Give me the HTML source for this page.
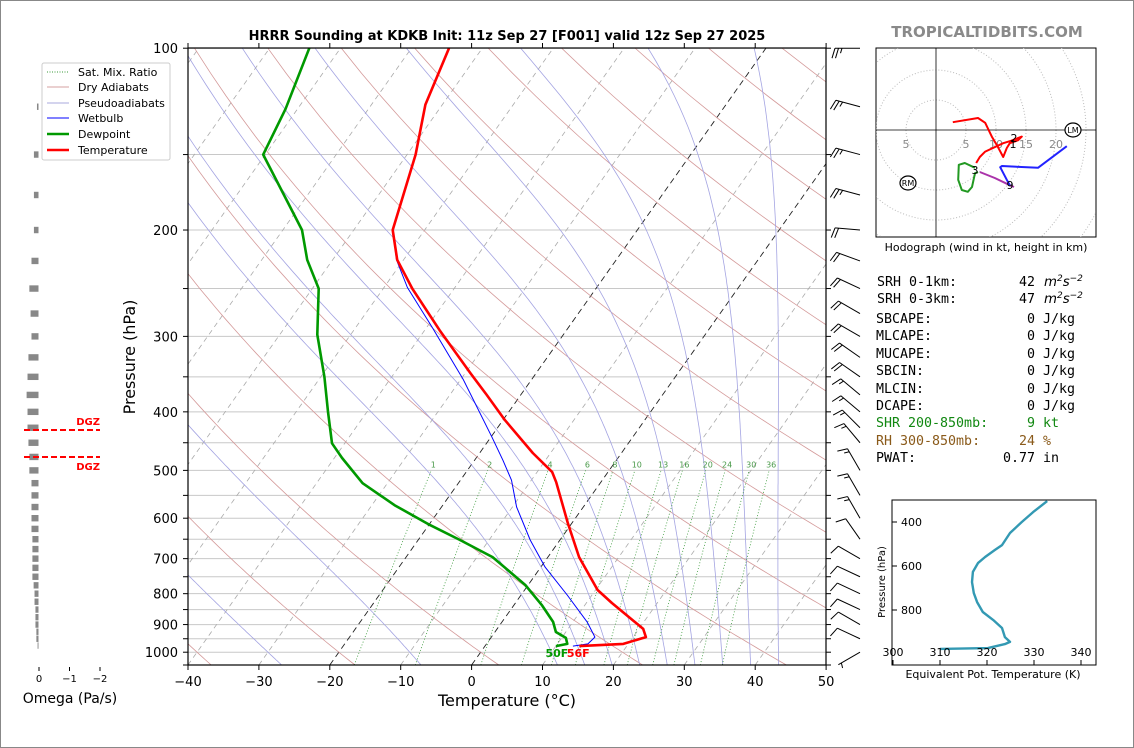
<!DOCTYPE html>
<html><head><meta charset="utf-8">
<style>
html,body{margin:0;padding:0;background:#fff;}
svg{display:block;font-family:"DejaVu Sans","Liberation Sans",sans-serif;}
</style></head>
<body>
<svg id="chart" width="1134" height="748" viewBox="0 0 1134 748" xmlns="http://www.w3.org/2000/svg">
<rect x="0.5" y="0.5" width="1133" height="747" fill="#fff" stroke="#888"/>
<defs>
<clipPath id="mainclip"><rect x="188" y="48" width="638" height="617"/></clipPath>
<clipPath id="hodoclip"><rect x="876" y="48" width="220" height="189"/></clipPath>
<clipPath id="thclip"><rect x="892" y="500" width="204" height="165"/></clipPath>
</defs>
<g id="grid" clip-path="url(#mainclip)"></g>
<g id="series" clip-path="url(#mainclip)"></g>
<g id="axes"></g>
<g id="omega"></g>
<g id="barbs"></g>
<g id="hodo"></g>
<g id="theta"></g>

<text x="507" y="40" text-anchor="middle" font-size="13" font-weight="bold">HRRR Sounding at KDKB Init: 11z Sep 27 [F001] valid 12z Sep 27 2025</text>
<text x="987" y="37" text-anchor="middle" font-size="15" font-weight="bold" fill="#8a8a8a">TROPICALTIDBITS.COM</text>
<text x="507" y="706" text-anchor="middle" font-size="16">Temperature (°C)</text>
<text transform="translate(135,357) rotate(-90)" text-anchor="middle" font-size="16">Pressure (hPa)</text>
<text x="70" y="703" text-anchor="middle" font-size="14">Omega (Pa/s)</text>

<g font-size="11">
<rect x="42" y="63" width="128" height="97" fill="#fff" stroke="#ccc" rx="2"/>
<g><line x1="47" y1="72" x2="69" y2="72" stroke="#3a9a3a" stroke-dasharray="1,1.5"/><text x="78" y="76">Sat. Mix. Ratio</text></g>
<g><line x1="47" y1="87" x2="69" y2="87" stroke="#d4a0a0"/><text x="78" y="91">Dry Adiabats</text></g>
<g><line x1="47" y1="103" x2="69" y2="103" stroke="#aaaadd"/><text x="78" y="107">Pseudoadiabats</text></g>
<g><line x1="47" y1="118" x2="69" y2="118" stroke="#0000ff"/><text x="78" y="122">Wetbulb</text></g>
<g><line x1="47" y1="134" x2="69" y2="134" stroke="#009900" stroke-width="2.5"/><text x="78" y="138">Dewpoint</text></g>
<g><line x1="47" y1="150" x2="69" y2="150" stroke="#ff0000" stroke-width="2.5"/><text x="78" y="154">Temperature</text></g>
</g>

<g font-family="'DejaVu Sans Mono','Liberation Mono',monospace" font-size="13.3">
<text x="877" y="286">SRH 0-1km:</text><text x="1019" y="286">42</text><text x="1044" y="286" font-family="'DejaVu Sans',sans-serif" font-style="italic">m<tspan dy="-5" font-size="9">2</tspan><tspan dy="5">s</tspan><tspan dy="-5" font-size="9">−2</tspan></text>
<text x="877" y="303">SRH 0-3km:</text><text x="1019" y="303">47</text><text x="1044" y="303" font-family="'DejaVu Sans',sans-serif" font-style="italic">m<tspan dy="-5" font-size="9">2</tspan><tspan dy="5">s</tspan><tspan dy="-5" font-size="9">−2</tspan></text>
<text x="876" y="323">SBCAPE:</text><text x="1027" y="323">0 J/kg</text>
<text x="876" y="340">MLCAPE:</text><text x="1027" y="340">0 J/kg</text>
<text x="876" y="358">MUCAPE:</text><text x="1027" y="358">0 J/kg</text>
<text x="876" y="375">SBCIN:</text><text x="1027" y="375">0 J/kg</text>
<text x="876" y="393">MLCIN:</text><text x="1027" y="393">0 J/kg</text>
<text x="876" y="410">DCAPE:</text><text x="1027" y="410">0 J/kg</text>
<text x="876" y="427" fill="#118811">SHR 200-850mb:</text><text x="1027" y="427" fill="#118811">9 kt</text>
<text x="876" y="445" fill="#8a5a1a">RH 300-850mb:</text><text x="1019" y="445" fill="#8a5a1a">24 %</text>
<text x="876" y="462">PWAT:</text><text x="1003" y="462">0.77 in</text>
</g>
</svg>
<script>
// ---------- DATA ----------
const tempP = [100,124,150,200,224,250,293,345,375,413,468,503,523,611,696,789,829,915,944,969,977];
const tempT = [-64.7,-62.4,-58.8,-54.5,-50.9,-45.9,-37.9,-29.3,-24.8,-19.7,-12.5,-7.9,-6.3,-0.6,4.4,10.3,13.6,20.6,21.8,19.3,13.3];
const dewP = [100,126,150,200,224,250,298,350,400,451,477,525,571,616,652,696,774,835,891,926,947,969,977];
const dewT = [-84.4,-81.7,-80.3,-67.3,-63.6,-59.1,-54.7,-49.5,-45.5,-41.8,-38.9,-33.5,-26.8,-19.8,-14.1,-7.8,-0.4,3.9,7.2,8.6,10.6,11.4,10.0];
const wbP = [200,224,249,290,354,440,481,519,575,652,723,804,891,944,969,977];
const wbT = [-54.5,-51.0,-46.7,-39.2,-29.6,-19.9,-16.0,-12.8,-9.4,-4.2,0.6,6.5,12.0,14.6,14.3,12.4];
const omegaP = [125,150,175,200,225,250,275,300,325,350,375,400,425,450,475,500,525,550,575,600,625,650,675,700,725,750,775,800,825,850,875,900,925,950,975];
const omegaV = [0.05,0.15,0.15,0.15,0.23,0.3,0.26,0.23,0.33,0.36,0.39,0.36,0.36,0.33,0.3,0.3,0.23,0.23,0.23,0.23,0.23,0.2,0.2,0.2,0.2,0.2,0.16,0.13,0.13,0.1,0.1,0.1,0.07,0.07,0.03];
const barbP = [100,125,150,175,200,225,250,275,300,325,350,375,400,425,450,500,550,600,650,700,750,800,850,900,950,1000];
const barbDir = [270,285,285,285,275,290,295,300,300,305,305,310,310,315,320,330,330,330,325,300,295,295,295,300,295,240];
const barbSpd = [25,25,25,25,20,20,20,20,20,20,20,15,15,15,15,15,15,15,10,10,10,10,10,10,10,5];
const hodoRedU = [2.8,7,8.2,9.3,10.3,11.2,11.8,12.3,13.7,14.3,12.5,11.2,8.2,7.3,6.7];
const hodoRedV = [1.3,2,1.2,-1.1,-2.8,-4.5,-3,-2.2,-1.7,-1.1,-1.8,-2.2,-3.6,-4.5,-5.5];
const hodoGreenU = [6.5,4.8,3.8,3.7,4.3,5.3,6,6.5,7.0];
const hodoGreenV = [-6.3,-5.5,-5.8,-8.3,-10,-10.3,-9.5,-7.2,-7.0];
const hodoMagU = [7.3,9.8,12.3,13];
const hodoMagV = [-7,-8,-9.2,-9.5];
const hodoBlueU = [12.3,11.8,10.7,11,17,21.8];
const hodoBlueV = [-9.2,-8.3,-6.2,-6,-6.3,-2.7];
const thetaE = [332.8,329.8,327.4,324.9,323.2,321.7,319.6,318.1,317.0,316.8,317.2,317.9,319.1,321.3,323.2,323.8,324.9,323.8,320.2,310.0];
const thetaP = [305,355,400,450,505,527,559,586,627,673,723,764,809,845,882,923,945,955,973,977];
const mixRatios = [1,2,4,6,8,10,13,16,20,24,30,36];
const dryT0 = [-60,-40,-20,0,20,40,60,80,100,120,140,160,180,200,220];
const moistT0 = [-50,-30,-10,10,14,18,22,26,30,34,38,42];
const xTicks = [-40,-30,-20,-10,0,10,20,30,40,50];
const pLabels = [100,200,300,400,500,600,700,800,900,1000];

// ---------- SCALES ----------
const NS='http://www.w3.org/2000/svg';
function yP(p){return 665-604*Math.log10(1050/p);}
function xT(T,p){return 188+(T+40)*7.09+(665-yP(p))*0.707;}
function mk(tag,attrs,parent){const e=document.createElementNS(NS,tag);for(const k in attrs)e.setAttribute(k,attrs[k]);parent.appendChild(e);return e;}
const G=id=>document.getElementById(id);
const grid=G('grid'),series=G('series'),axes=G('axes');
function pathFrom(pts){return pts.map((q,i)=>(i?'L':'M')+q[0].toFixed(1)+','+q[1].toFixed(1)).join('');}

for(let p=100;p<=1050;p+=50){const l=mk('line',{x1:188,x2:826,y1:yP(p),y2:yP(p),stroke:'#c8c8c8','stroke-width':1},grid);

}
for(let T=-140;T<=50;T+=10){const c=(T===0||T===-20);
const l=mk('line',{x1:xT(T,1050),y1:yP(1050),x2:xT(T,100),y2:yP(100),stroke:c?'#222':'#aaa','stroke-width':c?0.9:0.8,'stroke-dasharray':c?'6,4':'5,4'},grid);

}
dryT0.forEach(t0=>{const th=t0+273.15;const pts=[];for(let p=1050;p>=100;p-=10){pts.push([xT(th*Math.pow(p/1000,0.2857)-273.15,p),yP(p)]);}
const l=mk('path',{d:pathFrom(pts),fill:'none',stroke:'#d49a9a','stroke-width':0.8},grid);

});
function es(Tc){return 6.112*Math.exp(17.67*Tc/(Tc+243.5));}
function moistRate(T,p){const Tc=T-273.15;const rs=0.622*es(Tc)/(p-es(Tc));const Rd=287,Lv=2.5e6,Cp=1005;
return (Rd*T+Lv*rs)/(p*(Cp+Lv*Lv*rs*0.622/(Rd*T*T)));}
moistT0.forEach(T0=>{let pts=[];let T=T0+273.15;
let Tl=T;for(let p=1000;p<=1050;p+=5){pts.unshift([xT(Tl-273.15,p),yP(p)]);Tl+=moistRate(Tl,p)*5;}
for(let p=1000;p>=100;p-=5){pts.push([xT(T-273.15,p),yP(p)]);T-=moistRate(T,p)*5;}
const l=mk('path',{d:pathFrom(pts),fill:'none',stroke:'#a4a4e2','stroke-width':0.8},grid);

});
function tdFromW(w,p){const e=w*p/(622+w);const a=Math.log(e/6.112);return 243.5*a/(17.67-a);}
mixRatios.forEach(w=>{const pts=[];for(let p=1050;p>=500;p-=10)pts.push([xT(tdFromW(w,p),p),yP(p)]);
const l=mk('path',{d:pathFrom(pts),fill:'none',stroke:'#3a9a3a','stroke-width':0.8,'stroke-dasharray':'1,2'},grid);


const t=mk('text',{x:xT(tdFromW(w,500),500)+2,y:yP(500)-3,'font-size':8,fill:'#4a9a4a','text-anchor':'middle'},grid);t.textContent=w;

});

function line(P,T,color,w,name){const pts=P.map((p,i)=>[xT(T[i],p),yP(p)]);
const l=mk('path',{d:pathFrom(pts),fill:'none',stroke:color,'stroke-width':w,'stroke-linejoin':'round'},series);

}
line(wbP,wbT,'#0000ff',1,'wetbulb-line');
line(dewP,dewT,'#009900',2.6,'dewpoint-line');
line(tempP,tempT,'#ff0000',2.6,'temperature-line');
{const sp=tempP[tempP.length-1];
const t1=mk('text',{x:xT(dewT[dewT.length-1],sp)+1,y:yP(sp)+11,'font-size':11,'font-weight':'bold',fill:'#009900','text-anchor':'middle'},axes);t1.textContent='50F';


const t2=mk('text',{x:xT(tempT[tempT.length-1],sp)-1,y:yP(sp)+11,'font-size':11,'font-weight':'bold',fill:'#ff0000','text-anchor':'middle'},axes);t2.textContent='56F';

}

mk('rect',{x:188,y:48,width:638,height:617,fill:'none',stroke:'#000','stroke-width':1.2},axes);
xTicks.forEach(T=>{const x=188+(T+40)*7.09;mk('line',{x1:x,x2:x,y1:665,y2:670,stroke:'#000'},axes);mk('line',{x1:x,x2:x,y1:48,y2:43,stroke:'#000'},axes);
const t=mk('text',{x:x,y:686,'font-size':13,'text-anchor':'middle'},axes);t.textContent=T<0?'\u2212'+(-T):T;

});
for(let p=100;p<=1050;p+=50){const y=yP(p);mk('line',{x1:183,x2:188,y1:y,y2:y,stroke:'#000'},axes);mk('line',{x1:826,x2:831,y1:y,y2:y,stroke:'#000'},axes);}
pLabels.forEach(p=>{const t=mk('text',{x:178,y:yP(p)+5,'font-size':13,'text-anchor':'end'},axes);t.textContent=p;

});

const om=G('omega');const ox=38.5,os=30.5;
omegaP.forEach((p,i)=>{const w=omegaV[i]*os;const r=mk('rect',{x:ox-w,y:yP(p)-3.2,width:w,height:6.4,fill:'#888'},om);

});
[0,-1,-2].forEach(v=>{const x=ox-v*os+0.5;mk('line',{x1:x,x2:x,y1:667,y2:671,stroke:'#000'},om);const t=mk('text',{x:x,y:682,'font-size':10,'text-anchor':'middle'},om);t.textContent=v===0?'0':'\u2212'+(-v);

});
[430,457].forEach((y,i)=>{mk('line',{x1:24,x2:100,y1:y,y2:y,stroke:'#ff0000','stroke-width':2,'stroke-dasharray':'6,3'},om);
const t=mk('text',{x:100,y:i?470:425,'font-size':10,'font-weight':'bold',fill:'#ff0000','text-anchor':'end'},om);t.textContent='DGZ';

});

const bg=G('barbs');
barbP.forEach((p,i)=>{const px=860,py=yP(p);const a=barbDir[i]*Math.PI/180;const dx=Math.sin(a),dy=-Math.cos(a);const L=25;
const ex=px+dx*L,ey=py+dy*L;const g=mk('g',{stroke:'#000','stroke-width':1,fill:'none'},bg);


mk('line',{x1:px,y1:py,x2:ex,y2:ey},g);
let s=barbSpd[i];let pos=0;const fx=-dy,fy=dx;
while(s>=10){const bx=ex-dx*pos,by=ey-dy*pos;mk('line',{x1:bx,y1:by,x2:bx-fx*10+dx*3,y2:by-fy*10+dy*3},g);pos+=3.5;s-=10;}
if(s>=5){const off=pos===0?3.5:pos;const bx=ex-dx*off,by=ey-dy*off;mk('line',{x1:bx,y1:by,x2:bx-fx*5+dx*1.5,y2:by-fy*5+dy*1.5},g);}
});

const hg=G('hodo');const hx0=936,hy0=130,hs=6;
mk('rect',{x:876,y:48,width:220,height:189,fill:'#fff',stroke:'#000'},hg);
const hc=mk('g',{'clip-path':'url(#hodoclip)'},hg);
for(let r=5;r<=40;r+=5)mk('circle',{cx:hx0,cy:hy0,r:r*hs,fill:'none',stroke:'#bbb','stroke-dasharray':'1,2'},hc);
mk('line',{x1:876,x2:1096,y1:hy0,y2:hy0,stroke:'#000','stroke-width':0.8},hc);
mk('line',{x1:hx0,x2:hx0,y1:48,y2:237,stroke:'#000','stroke-width':0.8},hc);
[[-5,'5'],[5,'5'],[10,'10'],[15,'15'],[20,'20']].forEach(d=>{const t=mk('text',{x:hx0+d[0]*hs,y:hy0+18,'font-size':11,fill:'#888','text-anchor':'middle'},hc);t.textContent=d[1];

});
function hline(U,V,c,name){const l=mk('path',{d:pathFrom(U.map((u,i)=>[hx0+u*hs,hy0-V[i]*hs])),fill:'none',stroke:c,'stroke-width':2,'stroke-linejoin':'round'},hc);

}
hline(hodoGreenU,hodoGreenV,'#229922','hodo-3-6km');
hline(hodoMagU,hodoMagV,'#aa33aa','hodo-6-9km');
hline(hodoBlueU,hodoBlueV,'#2222ff','hodo-9-12km');
hline(hodoRedU,hodoRedV,'#ff0000','hodo-0-3km');
[['1',1013,148],['2',1014,142],['3',975,174],['9',1010,189]].forEach(d=>{const t=mk('text',{x:d[1],y:d[2],'font-size':11,'text-anchor':'middle'},hc);t.textContent=d[0];

});
[['LM',1073,130],['RM',908,183]].forEach(d=>{mk('ellipse',{cx:d[1],cy:d[2],rx:8,ry:7,fill:'#fff',stroke:'#000','stroke-width':1.2},hc);const t=mk('text',{x:d[1],y:d[2]+3,'font-size':8,'text-anchor':'middle'},hc);t.textContent=d[0];

});
{const t=mk('text',{x:986,y:251,'font-size':11,'text-anchor':'middle'},hg);t.textContent='Hodograph (wind in kt, height in km)';

}

const tg=G('theta');const xTh=th=>893+(th-300)*4.7,yPe=p=>500+(p-300)*0.22;
mk('rect',{x:892,y:500,width:204,height:165,fill:'#fff',stroke:'#000'},tg);
{const l=mk('path',{d:pathFrom(thetaE.map((t,i)=>[xTh(t),yPe(thetaP[i])])),fill:'none',stroke:'#3399b3','stroke-width':2.4,'stroke-linejoin':'round','clip-path':'url(#thclip)'},tg);

}
[300,310,320,330,340].forEach(v=>{const x=xTh(v);mk('line',{x1:x,x2:x,y1:665,y2:660,stroke:'#000'},tg);const t=mk('text',{x:x,y:656,'font-size':11,'text-anchor':'middle'},tg);t.textContent=v;

});
[400,600,800].forEach(v=>{const y=yPe(v);mk('line',{x1:892,x2:897,y1:y,y2:y,stroke:'#000'},tg);const t=mk('text',{x:901,y:y+4,'font-size':11},tg);t.textContent=v;

});
{const t=mk('text',{x:993,y:678,'font-size':11,'text-anchor':'middle'},tg);t.textContent='Equivalent Pot. Temperature (K)';


const t2=mk('text',{transform:'translate(885,582) rotate(-90)','font-size':10,'text-anchor':'middle'},tg);t2.textContent='Pressure (hPa)';

}
</script>
</body></html>
